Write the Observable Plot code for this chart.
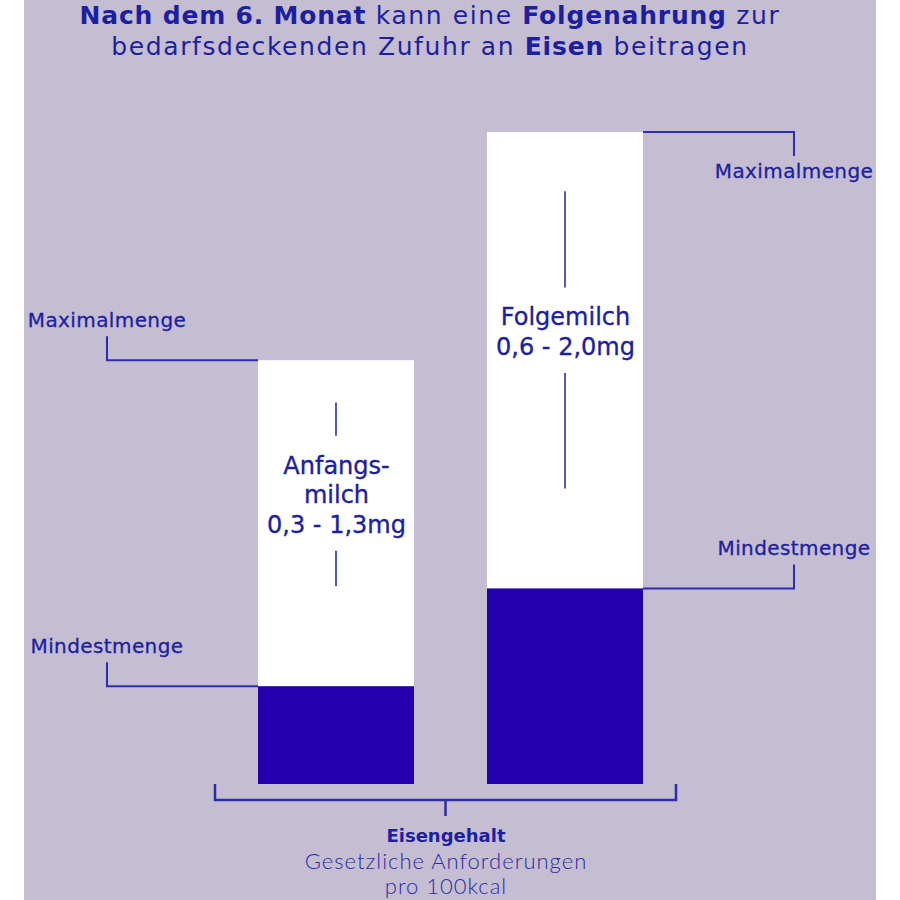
<!DOCTYPE html>
<html>
<head>
<meta charset="utf-8">
<script src="https://cdn.jsdelivr.net/npm/d3@7"></script>
<script src="https://cdn.jsdelivr.net/npm/@observablehq/plot@0.6"></script>
<style>
  body { margin: 0; background: #ffffff; }
  #wrap { position: relative; width: 900px; height: 900px; background: #ffffff; overflow: hidden; }
  #panel { position: absolute; left: 24px; top: 0; width: 852px; height: 900px; background: #c5bdd1; }
  #title { position: absolute; left: 24px; top: 0; width: 812px; text-align: center;
           font-family: "DejaVu Sans", sans-serif; font-size: 25px; line-height: 31px; color: #1d1f9f;
           letter-spacing: 1.6px; white-space: nowrap; }
  #title b { font-weight: bold; letter-spacing: 0.8px; }
  #chart { position: absolute; left: 24px; top: 68px; }
  #caption { position: absolute; left: 24px; top: 823px; width: 844px; text-align: center;
             font-family: Lato, sans-serif; font-size: 22px; line-height: 25px; color: #2a2ca6; }
  #caption .head { font-family: "DejaVu Sans", sans-serif; font-weight: bold; font-size: 18px; color: #1d1f9f; }
  #caption .sub { font-weight: 300; letter-spacing: 1px; }
</style>
</head>
<body>
<div id="wrap">
  <div id="panel"></div>
  <div id="title"><b>Nach dem 6. Monat</b> kann eine <b>Folgenahrung</b> zur<br>bedarfsdeckenden Zufuhr an <b>Eisen</b> beitragen</div>
  <div id="chart"></div>
  <div id="caption"><div class="head">Eisengehalt</div><div class="sub">Gesetzliche Anforderungen</div><div class="sub">pro 100kcal</div></div>
</div>
<script>
// ---- data ----
const categories = ["Anfangsmilch", "Folgemilch"];
const minValues = [0.3, 0.6];
const maxValues = [1.3, 2.0];
const barLabels = ["Anfangs-\nmilch\n0,3 - 1,3mg", "Folgemilch\n0,6 - 2,0mg"];
const leaderLabels = ["Maximalmenge", "Mindestmenge"];
const yDomain = [0, 2.0];

const rows = categories.map((name, i) => ({
  name, min: minValues[i], max: maxValues[i], label: barLabels[i]
}));

const DARK = "#2200ae";
const TEXT = "#1d1f9f";
const LINE = "#2b2ea8";
const topValue = d3.max(maxValues);

function annotations(index, scales, values, dims) {
  const {x, y} = scales;
  const g = d3.create("svg:g").attr("fill", "none");
  const bw = x.bandwidth();
  const step = x.step();
  rows.forEach((d, i) => {
    const x0 = x(d.name), x1 = x0 + bw, cx = x0 + bw / 2;
    const outward = i === 0 ? -1 : 1;
    const edge = i === 0 ? x0 : x1;
    const lx = cx + outward * step;
    [d.max, d.min].forEach((v, j) => {
      const yy = y(v);
      const below = v === topValue;
      const vy = below ? yy + 24 : yy - 24;
      g.append("path")
        .attr("d", `M${edge},${yy}H${lx}V${vy}`)
        .attr("stroke", LINE).attr("stroke-width", 2);
      g.append("text")
        .attr("x", lx).attr("y", below ? yy + 39 : yy - 40)
        .attr("dy", "0.35em")
        .attr("text-anchor", "middle")
        .attr("fill", TEXT)
        .attr("stroke", TEXT).attr("stroke-width", 0.3)
        .attr("font-family", "DejaVu Sans, sans-serif")
        .attr("font-size", 20)
        .attr("letter-spacing", 0.4)
        .text(leaderLabels[j]);
    });
    // vertical guide segments above/below the bar label
    const nLines = d.label.split("\n").length;
    const cy = y((d.min + d.max) / 2) - 30;
    const half = (nLines - 1) * 29.5 / 2 + 12;
    const gap = 16;
    const topStart = y(d.max) + 0.13 * (y(d.min) - y(d.max));
    const botEnd = y(d.min) - 100;
    g.append("path").attr("d", `M${cx},${topStart}V${cy - half - gap}`)
      .attr("stroke", LINE).attr("stroke-width", 1.6);
    g.append("path").attr("d", `M${cx},${cy + half + gap}V${botEnd}`)
      .attr("stroke", LINE).attr("stroke-width", 1.6);
  });
  // bracket under the bars
  const left = x(categories[0]) - 43;
  const right = x(categories[categories.length - 1]) + bw + 33;
  const y0 = y(0);
  const mid = (left + right) / 2;
  g.append("path")
    .attr("d", `M${left},${y0}V${y0 + 16}H${right}V${y0}M${mid},${y0 + 16}V${y0 + 32}`)
    .attr("stroke", LINE).attr("stroke-width", 2.5);
  return g.node();
}

const chart = Plot.plot({
  width: 852,
  height: 760,
  marginTop: 64,
  marginBottom: 44,
  marginLeft: 233,
  marginRight: 232,
  style: { background: "transparent", overflow: "visible" },
  x: { domain: categories, paddingInner: 0.317, paddingOuter: 0, axis: null },
  y: { domain: yDomain, axis: null },
  marks: [
    Plot.barY(rows, { x: "name", y1: 0, y2: "max", fill: "white" }),
    Plot.barY(rows, { x: "name", y1: 0, y2: "min", fill: DARK }),
    Plot.text(rows, {
      x: "name", y: d => (d.min + d.max) / 2, text: "label", dy: -30,
      fill: TEXT, stroke: TEXT, strokeWidth: 0.35, fontSize: 24, lineHeight: 1.23,
      fontFamily: "DejaVu Sans, sans-serif"
    }),
    annotations
  ]
});
document.getElementById("chart").appendChild(chart);
</script>
</body>
</html>
